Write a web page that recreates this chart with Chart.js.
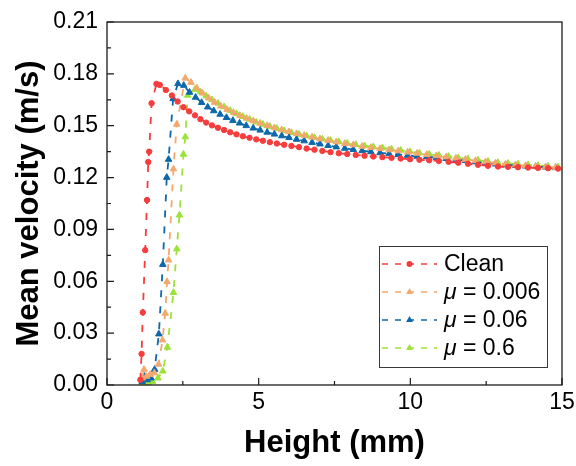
<!DOCTYPE html>
<html>
<head>
<meta charset="utf-8">
<script src="https://cdn.jsdelivr.net/npm/chart.js@4.4.1/dist/chart.umd.min.js"></script>
<style>
  html, body { margin: 0; padding: 0; background: #fff; }
  #wrap { width: 576px; height: 466px; position: relative; }
</style>
</head>
<body>
<div id="wrap"><canvas id="velocityChart" width="576" height="466"></canvas></div>
<script>
// ---- data ----
const seriesLabels = ['Clean', 'μ = 0.006', 'μ = 0.06', 'μ = 0.6'];

const cleanHeight = [1.10, 1.14, 1.18, 1.26, 1.32, 1.36, 1.39, 1.47, 1.63, 1.74,
  1.94, 2.14, 2.33, 2.52, 2.71, 2.90, 3.08, 3.27, 3.46, 3.66,
  3.86, 4.06, 4.27, 4.48, 4.70, 4.92, 5.14, 5.37, 5.60, 5.84,
  6.08, 6.33, 6.58, 6.84, 7.10, 7.37, 7.64, 7.92, 8.20, 8.49,
  8.78, 9.08, 9.38, 9.68, 9.99, 10.30, 10.62, 10.94, 11.26, 11.58,
  11.90, 12.23, 12.56, 12.89, 13.22, 13.55, 13.88, 14.21, 14.54, 14.87];
const cleanVelocity = [0.003, 0.018, 0.042, 0.078, 0.107, 0.129, 0.135, 0.163, 0.1742, 0.1736,
  0.1707, 0.1675, 0.1640, 0.1607, 0.1583, 0.1560, 0.1538, 0.1518, 0.1502, 0.1488,
  0.1475, 0.1462, 0.1450, 0.1439, 0.1430, 0.1421, 0.1413, 0.1405, 0.1397, 0.1390,
  0.1383, 0.1376, 0.1368, 0.1361, 0.1354, 0.1347, 0.1341, 0.1336, 0.1331, 0.1326,
  0.1322, 0.1318, 0.1314, 0.1310, 0.1306, 0.1303, 0.1300, 0.1296, 0.1291, 0.1286,
  0.1280, 0.1274, 0.1268, 0.1264, 0.1262, 0.1260, 0.1258, 0.1256, 0.1254, 0.1252];

const mu0006Height = [1.16, 1.22, 1.30, 1.42, 1.56, 1.70, 1.83, 1.92, 1.98, 2.03,
  2.19, 2.30, 2.58, 2.77, 2.96, 3.15, 3.35, 3.55, 3.75, 3.96,
  4.17, 4.38, 4.60, 4.82, 5.05, 5.28, 5.52, 5.76, 6.00, 6.25,
  6.50, 6.76, 7.02, 7.29, 7.56, 7.84, 8.12, 8.41, 8.70, 9.00,
  9.30, 9.60, 9.91, 10.22, 10.54, 10.86, 11.18, 11.50, 11.82, 12.15,
  12.48, 12.81, 13.14, 13.47, 13.80, 14.13, 14.46, 14.79];
const mu0006Velocity = [0.004, 0.009, 0.005, 0.006, 0.007, 0.012, 0.026, 0.0415, 0.0598, 0.0723,
  0.125, 0.1508, 0.1775, 0.1750, 0.1718, 0.1688, 0.1660, 0.1635, 0.1613, 0.1594,
  0.1576, 0.1559, 0.1543, 0.1528, 0.1514, 0.1501, 0.1488, 0.1476, 0.1465, 0.1454,
  0.1444, 0.1434, 0.1424, 0.1415, 0.1406, 0.1397, 0.1389, 0.1381, 0.1374, 0.1367,
  0.1360, 0.1354, 0.1347, 0.1340, 0.1333, 0.1326, 0.1319, 0.1312, 0.1305, 0.1298,
  0.1291, 0.1284, 0.1278, 0.1273, 0.1269, 0.1265, 0.1262, 0.1259];

const mu006Height = [1.16, 1.24, 1.33, 1.45, 1.57, 1.71, 1.84, 1.97, 2.03, 2.18,
  2.34, 2.53, 2.72, 2.92, 3.12, 3.32, 3.52, 3.73, 3.94, 4.15,
  4.37, 4.59, 4.82, 5.05, 5.28, 5.52, 5.76, 6.00, 6.25, 6.50,
  6.76, 7.02, 7.29, 7.56, 7.84, 8.12, 8.41, 8.70, 9.00, 9.30,
  9.60, 9.91, 10.22, 10.54, 10.86, 11.18, 11.50, 11.82, 12.15, 12.48,
  12.81, 13.14, 13.47, 13.80, 14.13, 14.46, 14.79];
const mu006Velocity = [0.002, 0.005, 0.003, 0.004, 0.009, 0.0295, 0.0697, 0.1201, 0.1305, 0.1656,
  0.1743, 0.1733, 0.1693, 0.1664, 0.1634, 0.1608, 0.1586, 0.1566, 0.1547, 0.1530,
  0.1515, 0.1500, 0.1486, 0.1474, 0.1462, 0.1451, 0.1441, 0.1431, 0.1421, 0.1412,
  0.1403, 0.1394, 0.1385, 0.1377, 0.1369, 0.1362, 0.1355, 0.1349, 0.1343, 0.1338,
  0.1333, 0.1328, 0.1323, 0.1319, 0.1315, 0.1310, 0.1304, 0.1298, 0.1291, 0.1284,
  0.1278, 0.1273, 0.1269, 0.1266, 0.1263, 0.1260, 0.1257];

const mu06Height = [1.12, 1.22, 1.35, 1.50, 1.68, 1.84, 1.99, 2.19, 2.30, 2.39,
  2.52, 2.58, 2.66, 2.90, 3.08, 3.27, 3.46, 3.66, 3.86, 4.06,
  4.27, 4.48, 4.70, 4.92, 5.14, 5.37, 5.60, 5.84, 6.08, 6.33,
  6.58, 6.84, 7.10, 7.37, 7.64, 7.92, 8.20, 8.49, 8.78, 9.08,
  9.38, 9.68, 9.99, 10.30, 10.62, 10.94, 11.26, 11.58, 11.90, 12.23,
  12.56, 12.89, 13.22, 13.55, 13.88, 14.21, 14.54, 14.87];
const mu06Velocity = [0.000, 0.001, 0.001, 0.002, 0.004, 0.008, 0.0218, 0.0535, 0.0787, 0.0983,
  0.1335, 0.1435, 0.1676, 0.1710, 0.1695, 0.1672, 0.1650, 0.1630, 0.1609, 0.1588,
  0.1570, 0.1553, 0.1537, 0.1521, 0.1508, 0.1496, 0.1484, 0.1471, 0.1460, 0.1450,
  0.1441, 0.1432, 0.1423, 0.1415, 0.1407, 0.1398, 0.1391, 0.1384, 0.1378, 0.1372,
  0.1365, 0.1358, 0.1350, 0.1342, 0.1335, 0.1329, 0.1322, 0.1315, 0.1308, 0.1301,
  0.1294, 0.1287, 0.1282, 0.1278, 0.1274, 0.1270, 0.1266, 0.1262];

const FONT = "'Liberation Sans', Arial, sans-serif";

function toPoints(xs, ys) {
  return xs.map((x, i) => ({ x: x, y: ys[i] }));
}

function makeDataset(label, xs, ys, color, pointStyle, radius) {
  return {
    label: label,
    data: toPoints(xs, ys),
    borderColor: color,
    backgroundColor: color,
    borderWidth: 1.8,
    borderDash: [7, 9],
    pointStyle: pointStyle,
    pointRadius: radius,
    pointBorderWidth: 1,
    pointBackgroundColor: color,
    pointBorderColor: color,
    tension: 0
  };
}

// scales should not push the plot area around for label overflow
function fixPadding(scale) {
  scale.paddingLeft = 0;
  scale.paddingRight = 0;
  scale.paddingTop = 0;
  scale.paddingBottom = 0;
}

// inward ticks + closed frame around the plot area
const frameTicks = {
  id: 'frameTicks',
  afterDatasetsDraw(chart) {
    const { ctx, chartArea: a, scales } = chart;
    const xs = scales.x, ys = scales.y;
    ctx.save();
    ctx.strokeStyle = '#1b1b1b';
    ctx.lineWidth = 1.3;
    ctx.strokeRect(a.left, a.top, a.right - a.left, a.bottom - a.top);

    ctx.lineWidth = 1.2;
    ctx.beginPath();
    const xStep = 5, yStep = 0.03;
    xs.ticks.forEach(t => {
      const px = xs.getPixelForValue(t.value);
      ctx.moveTo(px, a.bottom); ctx.lineTo(px, a.bottom - 7);
      if (t.value + xStep / 2 < xs.max) {
        const mx = xs.getPixelForValue(t.value + xStep / 2);
        ctx.moveTo(mx, a.bottom); ctx.lineTo(mx, a.bottom - 4);
      }
    });
    ys.ticks.forEach(t => {
      const py = ys.getPixelForValue(t.value);
      ctx.moveTo(a.left, py); ctx.lineTo(a.left + 7, py);
      if (t.value + yStep / 2 < ys.max) {
        const my = ys.getPixelForValue(t.value + yStep / 2);
        ctx.moveTo(a.left, my); ctx.lineTo(a.left + 4, my);
      }
    });
    ctx.stroke();
    ctx.restore();
  }
};

// boxed legend with italic mu
const boxLegend = {
  id: 'boxLegend',
  afterDraw(chart, args, opts) {
    const ctx = chart.ctx;
    ctx.save();
    ctx.fillStyle = '#fff';
    ctx.fillRect(opts.left, opts.top, opts.width, opts.height);
    ctx.strokeStyle = '#3a3a3a';
    ctx.lineWidth = 1;
    ctx.strokeRect(opts.left + 0.5, opts.top + 0.5, opts.width, opts.height);

    chart.data.datasets.forEach((ds, i) => {
      const y = opts.top + opts.firstRow + i * opts.rowStep;
      const x0 = opts.left + 3, x1 = x0 + opts.lineLen;
      ctx.strokeStyle = ds.borderColor;
      ctx.lineWidth = 1.6;
      ctx.setLineDash([6, 7]);
      ctx.beginPath();
      ctx.moveTo(x0, y); ctx.lineTo(x1, y);
      ctx.stroke();
      ctx.setLineDash([]);

      // marker
      const cx = (x0 + x1) / 2;
      ctx.fillStyle = ds.borderColor;
      ctx.beginPath();
      if (ds.pointStyle === 'circle') {
        ctx.arc(cx, y, 3, 0, Math.PI * 2);
      } else {
        const r = 4;
        ctx.moveTo(cx, y - r);
        ctx.lineTo(cx + r * 0.866, y + r / 2);
        ctx.lineTo(cx - r * 0.866, y + r / 2);
        ctx.closePath();
      }
      ctx.fill();

      // text
      ctx.fillStyle = '#000';
      ctx.textBaseline = 'middle';
      let tx = x1 + 7;
      let text = ds.label;
      if (text.charAt(0) === 'μ') {
        ctx.font = 'italic 23px ' + FONT;
        ctx.fillText('μ', tx, y + 1);
        tx += ctx.measureText('μ').width;
        text = text.slice(1);
      }
      ctx.font = '23px ' + FONT;
      ctx.fillText(text, tx, y + 1);
    });
    ctx.restore();
  }
};

const datasets = [
  makeDataset(seriesLabels[0], cleanHeight, cleanVelocity, 'rgb(246,60,60)', 'circle', 2.7),
  makeDataset(seriesLabels[1], mu0006Height, mu0006Velocity, 'rgb(244,168,110)', 'triangle', 3.8),
  makeDataset(seriesLabels[2], mu006Height, mu006Velocity, 'rgb(12,104,170)', 'triangle', 3.8),
  makeDataset(seriesLabels[3], mu06Height, mu06Velocity, 'rgb(156,226,56)', 'triangle', 3.8)
];

const ctx = document.getElementById('velocityChart').getContext('2d');
new Chart(ctx, {
  type: 'line',
  data: { datasets: datasets },
  plugins: [frameTicks, boxLegend],
  options: {
    responsive: false,
    animation: false,
    layout: { padding: { top: 22, right: 14, left: 0, bottom: 0 } },
    plugins: {
      legend: { display: false },
      tooltip: { enabled: false },
      boxLegend: { left: 379, top: 246, width: 168, height: 121, firstRow: 18, rowStep: 28, lineLen: 55 }
    },
    scales: {
      x: {
        type: 'linear',
        min: 0,
        max: 15,
        grid: { display: false, drawTicks: false },
        border: { display: false },
        ticks: { stepSize: 5, padding: 4, color: '#000', font: { family: FONT, size: 23 } },
        title: {
          display: true,
          text: 'Height (mm)',
          color: '#000',
          font: { family: FONT, size: 31, weight: 'bold', lineHeight: 1.2 },
          padding: { top: 0, bottom: 4 }
        },
        afterFit: scale => { scale.height = 81; fixPadding(scale); }
      },
      y: {
        min: 0,
        max: 0.21,
        grid: { display: false, drawTicks: false },
        border: { display: false },
        ticks: {
          stepSize: 0.03,
          padding: 9,
          color: '#000',
          font: { family: FONT, size: 23 },
          callback: v => v.toFixed(2)
        },
        title: {
          display: true,
          text: 'Mean velocity (m/s)',
          color: '#000',
          font: { family: FONT, size: 31, weight: 'bold', lineHeight: 1.2 },
          padding: { top: 11, bottom: 0 }
        },
        afterFit: scale => { scale.width = 107; fixPadding(scale); }
      }
    }
  }
});
</script>
</body>
</html>
